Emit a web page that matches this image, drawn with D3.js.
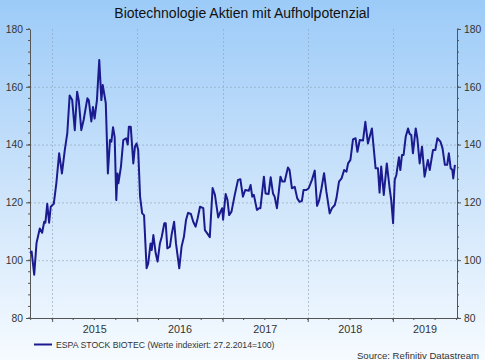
<!DOCTYPE html>
<html>
<head>
<meta charset="utf-8">
<script src="https://cdn.jsdelivr.net/npm/d3@7"></script>
<style>
html,body{margin:0;padding:0;}
svg{display:block;font-family:"Liberation Sans",Arial,sans-serif;}
</style>
</head>
<body>
<svg id="c" width="485" height="360"></svg>
<script>
const title = "Biotechnologie Aktien mit Aufholpotenzial";
const seriesName = "ESPA STOCK BIOTEC (Werte indexiert: 27.2.2014=100)";
const sourceText = "Source: Refinitiv Datastream";
const yTicks = [80, 100, 120, 140, 160, 180];
const yearLabels = ["2015", "2016", "2017", "2018", "2019"];

const dates = [
"2014-09-28","2014-10-05","2014-10-16","2014-10-26","2014-11-09","2014-11-19","2014-11-28","2014-12-03","2014-12-11","2014-12-19","2014-12-26",
"2015-01-08","2015-01-19","2015-01-31","2015-02-12","2015-02-24","2015-03-07","2015-03-17","2015-03-28","2015-04-08","2015-04-18","2015-04-25",
"2015-05-06","2015-05-16","2015-06-01","2015-06-07","2015-06-18","2015-06-25","2015-07-02","2015-07-12","2015-07-22","2015-07-31","2015-08-06",
"2015-08-19","2015-08-28","2015-09-06","2015-09-12","2015-09-19","2015-09-26","2015-10-03","2015-10-08","2015-10-12","2015-10-23","2015-11-02",
"2015-11-14","2015-11-21","2015-11-26","2015-12-04","2015-12-15","2015-12-22","2015-12-29",
"2016-01-05","2016-01-13","2016-01-22","2016-01-30","2016-02-10","2016-02-17","2016-02-27","2016-03-03","2016-03-10","2016-03-20","2016-03-28",
"2016-04-07","2016-04-15","2016-04-26","2016-05-02","2016-05-09","2016-05-20","2016-05-27","2016-06-07","2016-06-15","2016-06-29","2016-07-09",
"2016-07-19","2016-07-28","2016-08-06","2016-08-18","2016-08-28","2016-09-07","2016-09-16","2016-09-26","2016-10-10","2016-10-17","2016-10-27",
"2016-11-07","2016-11-19","2016-11-29","2016-12-13","2016-12-23","2016-12-30",
"2017-01-03","2017-01-14","2017-01-22","2017-01-29","2017-02-08","2017-02-22","2017-03-08","2017-03-18","2017-03-29","2017-04-08","2017-04-23",
"2017-05-01","2017-05-08","2017-05-15","2017-05-28","2017-06-06","2017-06-12","2017-06-27","2017-07-04","2017-07-17","2017-07-26","2017-08-05",
"2017-08-12","2017-08-22","2017-09-06","2017-09-14","2017-09-24","2017-10-08","2017-10-15","2017-10-25","2017-11-06","2017-11-17","2017-11-27",
"2017-12-07","2017-12-14","2017-12-26",
"2018-01-05","2018-01-19","2018-01-31","2018-02-10","2018-02-19","2018-03-01","2018-03-12","2018-03-22","2018-04-05","2018-04-15","2018-04-27",
"2018-05-04","2018-05-15","2018-05-26","2018-06-06","2018-06-16","2018-06-23","2018-07-03","2018-07-14","2018-07-25","2018-08-02","2018-08-12",
"2018-08-26","2018-09-05","2018-09-16","2018-10-03","2018-10-19","2018-10-29","2018-11-05","2018-11-12","2018-11-23","2018-12-06","2018-12-18",
"2018-12-25",
"2019-01-02","2019-01-09","2019-01-16","2019-01-27","2019-02-02","2019-02-09","2019-02-16","2019-02-25","2019-03-07","2019-03-14","2019-03-21",
"2019-03-28","2019-04-09","2019-04-16","2019-04-26","2019-05-06","2019-05-17","2019-05-31","2019-06-08","2019-06-22","2019-07-02","2019-07-11",
"2019-07-24","2019-08-02","2019-08-12","2019-08-22","2019-08-29","2019-09-06","2019-09-13","2019-09-17","2019-09-24"
];
const values = [
102.5,103,95,106,111,109.5,113.3,113,119.5,113,118.5,
119.5,126.7,137,130,138,144,157,155.4,145,158.3,155.4,
145,148.5,156,155.4,148,153,149,155.4,169.3,155.4,160.6,
154.3,130,141.6,141,146,142.7,120.8,130,126.6,132.4,141.6,
142.2,140,146.2,146.2,133.5,139.3,140.4,
138.1,122,116.2,115.6,97.2,98.9,105.8,103.5,108.7,102.4,99.5,
105.8,108.1,112.8,112.8,104.1,104.7,108.7,113.3,105.8,97.2,104.7,
108.1,113.9,116.4,116,113.3,111.6,114.5,118.5,118,110.4,109.3,
108,125,122.6,114.8,116.8,118,
114,122.9,120.8,115.6,116.8,122.6,127.8,128,122,124.3,124,
126,122,122.6,117.4,118,118,128.9,123.1,122.9,128.7,123.1,
122,118,128.9,127.2,127.2,132.1,131.2,124.9,125.4,121.4,120.2,
120.5,124.3,124.3,
124.9,127.8,131,118.8,120.8,124.9,130.1,123.7,116.2,118,119.1,
121.4,127.2,128.3,131.2,130.6,133.5,134.7,141.8,142.2,137.5,141.6,
141.4,147.9,140.4,145.6,131.8,131.8,123.4,132.4,122.6,133.5,124.9,
120.8,
112.8,127.8,129.5,135.6,131.2,136.4,136.4,142.7,145.6,143.7,143.3,
137,145.6,142.2,133.5,139.3,128.9,134.7,131.2,138.1,138.1,142.2,
141,138.7,133,133,137,131.8,131.2,128.3,133
];

const W = 485, H = 360;
const m = {left: 30, right: 457, top: 29, bottom: 318};
const parse = d3.utcParse("%Y-%m-%d");
const data = dates.map((d, i) => ({date: parse(d), value: values[i]}));

const svg = d3.select("#c");
const defs = svg.append("defs");
const grad = defs.append("linearGradient").attr("id", "bg").attr("x1", 0).attr("y1", 0).attr("x2", 0).attr("y2", 1);
grad.append("stop").attr("offset", "0%").attr("stop-color", "#9ccbf8");
grad.append("stop").attr("offset", "55%").attr("stop-color", "#cfe5fb");
grad.append("stop").attr("offset", "100%").attr("stop-color", "#f6fbff");
svg.append("rect").attr("width", W).attr("height", H).attr("fill", "url(#bg)");

const x = d3.scaleUtc().domain([parse("2014-09-28"), parse("2019-10-03")]).range([m.left, m.right]);
const y = d3.scaleLinear().domain([80, 180]).range([m.bottom, m.top]);

const years = yearLabels.map(s => parse(s + "-01-01"));

// grid
const grid = svg.append("g").attr("stroke", "#8fa6bf").attr("stroke-width", 0.8).attr("stroke-dasharray", "2,2").attr("opacity", 0.8);
grid.selectAll(".hg").data(yTicks.filter(v => v > 80 && v < 180)).enter().append("line")
  .attr("x1", m.left).attr("x2", m.right).attr("y1", d => y(d) + 0.5).attr("y2", d => y(d) + 0.5);
grid.selectAll(".vg").data(years).enter().append("line")
  .attr("y1", m.top).attr("y2", m.bottom).attr("x1", d => Math.round(x(d)) + 0.5).attr("x2", d => Math.round(x(d)) + 0.5);

const axisColor = "#555";
const textColor = "#333";

// y axes
const minorY = d3.range(80, 181, 4);
function styleAxis(g) {
  g.select(".domain").attr("stroke", axisColor);
  g.selectAll(".tick line").attr("stroke", axisColor);
  g.selectAll(".tick text").attr("fill", textColor).style("font-size", "10.3px").style("font-family", "'Liberation Sans',Arial,sans-serif");
}
const yl = svg.append("g").attr("transform", `translate(${m.left},0)`)
  .call(d3.axisLeft(y).tickValues(yTicks).tickSize(4).tickPadding(3).tickSizeOuter(0));
styleAxis(yl);
yl.selectAll(".minor").data(minorY).enter().append("line").attr("stroke", axisColor)
  .attr("x1", -2).attr("x2", 0).attr("y1", d => y(d)).attr("y2", d => y(d));
const yr = svg.append("g").attr("transform", `translate(${m.right},0)`)
  .call(d3.axisRight(y).tickValues(yTicks).tickSize(4).tickPadding(3).tickSizeOuter(0));
styleAxis(yr);
yr.selectAll(".minor").data(minorY).enter().append("line").attr("stroke", axisColor)
  .attr("x1", 0).attr("x2", 2).attr("y1", d => y(d)).attr("y2", d => y(d));

// x axis
const xa = svg.append("g").attr("transform", `translate(0,${m.bottom})`)
  .call(d3.axisBottom(x).tickValues(years).tickSize(4).tickFormat("").tickSizeOuter(0));
styleAxis(xa);
const quarters = d3.utcMonth.every(3).range(x.domain()[0], x.domain()[1]);
xa.selectAll(".minor").data(quarters).enter().append("line").attr("stroke", axisColor)
  .attr("x1", d => x(d)).attr("x2", d => x(d)).attr("y1", 0).attr("y2", 2);
const yearSpans = yearLabels.map((s, i) => {
  const a = d3.max([parse(s + "-01-01"), x.domain()[0]]);
  const b = d3.min([parse((+s + 1) + "-01-01"), x.domain()[1]]);
  return {label: s, cx: (x(a) + x(b)) / 2};
});
xa.selectAll(".yl").data(yearSpans).enter().append("text")
  .attr("x", d => d.cx).attr("y", 15).attr("text-anchor", "middle")
  .attr("fill", textColor).style("font-size", "10.8px").text(d => d.label);

// line
const line = d3.line().x(d => x(d.date)).y(d => y(d.value)).curve(d3.curveLinear);
svg.append("path").datum(data).attr("d", line).attr("fill", "none")
  .attr("stroke", "#1b1b8f").attr("stroke-width", 2).attr("stroke-linejoin", "round");

// title
svg.append("text").attr("x", 242).attr("y", 17.5).attr("text-anchor", "middle")
  .attr("fill", "#111").style("font-size", "14px").text(title);

// legend
svg.append("line").attr("x1", 34).attr("x2", 52).attr("y1", 344.5).attr("y2", 344.5)
  .attr("stroke", "#1b1b8f").attr("stroke-width", 2);
svg.append("text").attr("x", 56).attr("y", 347.5).attr("fill", textColor)
  .style("font-size", "8.7px").text(seriesName);
svg.append("text").attr("x", 479).attr("y", 359).attr("text-anchor", "end").attr("fill", textColor)
  .style("font-size", "9.6px").text(sourceText);
</script>
</body>
</html>
